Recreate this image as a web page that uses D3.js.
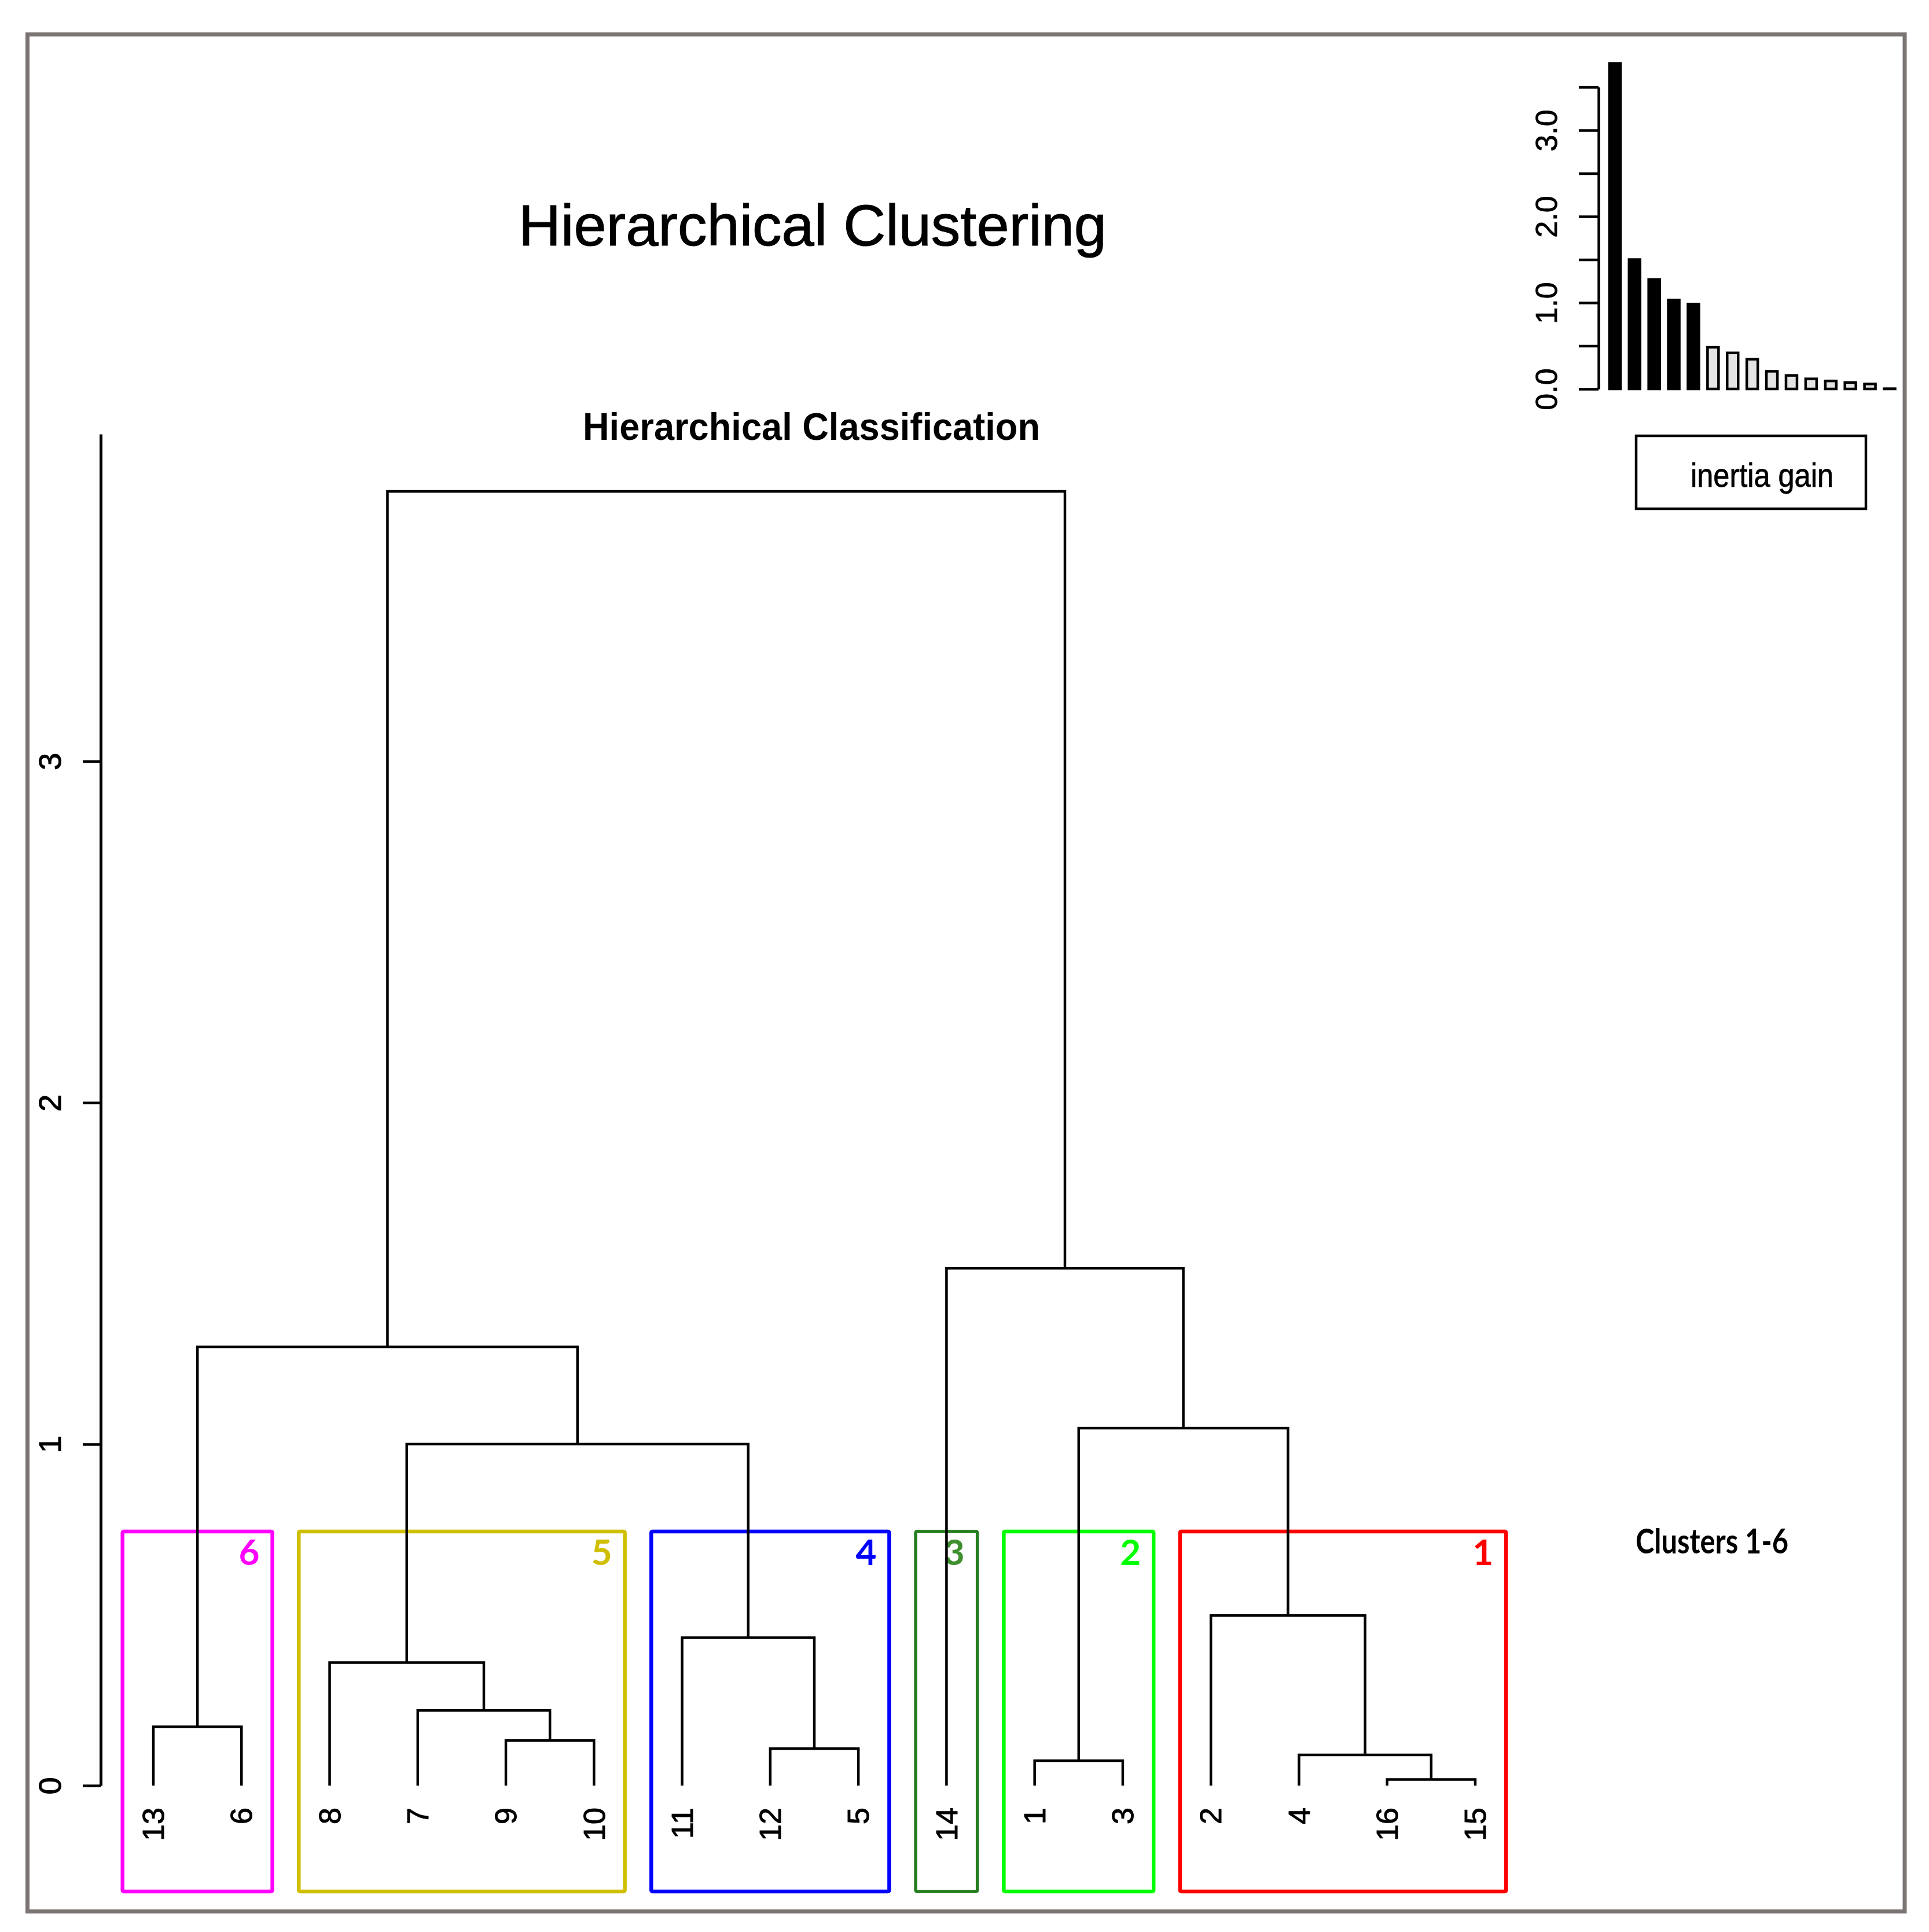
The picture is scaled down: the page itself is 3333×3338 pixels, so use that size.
<!DOCTYPE html>
<html>
<head>
<meta charset="utf-8">
<script src="https://cdn.jsdelivr.net/npm/d3@7"></script>
<style>
  html, body { margin: 0; padding: 0; background: #ffffff; }
  svg { display: block; }
</style>
</head>
<body>
<svg id="chart" width="3333" height="3338"></svg>
<script>
// ---------------- DATA ----------------
const title = "Hierarchical Clustering";
const subtitle = "Hierarchical Classification";

// leaf order along the dendrogram
const leafOrder = ["13", "6", "8", "7", "9", "10", "11", "12", "5", "14", "1", "3", "2", "4", "16", "15"];

// merges (like R's hclust merge matrix): ids, the two joined members, and the height
const mergeIds    = ["m1", "m2", "m3", "m4", "m5", "m6", "m7", "m8", "m9", "m10", "m11", "m12", "m13", "m14", "m15"];
const mergeLeft   = ["16", "1",  "4",  "12", "9",  "13", "7",  "8",  "11", "2",   "m8",  "m2",  "m6",  "14",  "m13"];
const mergeRight  = ["15", "3",  "m1", "5",  "10", "6",  "m5", "m7", "m4", "m3",  "m9",  "m10", "m11", "m12", "m14"];
const mergeHeight = [0.018, 0.073, 0.09, 0.108, 0.132, 0.172, 0.22, 0.36, 0.433, 0.498, 1.0, 1.047, 1.285, 1.515, 3.79];

// y-axis ticks of the dendrogram
const yTicks = [0, 1, 2, 3];

// clusters (boxes)
const clusterIds    = ["6", "5", "4", "3", "2", "1"];
const clusterFirst  = ["13", "8", "11", "14", "1", "2"];
const clusterLast   = ["6", "10", "5", "14", "3", "15"];
const clusterColors = ["#ff00ff", "#cfbf00", "#0000ff", "#237d1e", "#00ff00", "#ff0000"];
const clusterLabelColors = ["#ff00ff", "#cfbf00", "#0000ff", "#3f8f2f", "#00ff00", "#ff0000"];
const clusterNote = "Clusters 1-6";

// inset: inertia gain bar chart
const inertiaGain = [3.79, 1.515, 1.285, 1.047, 1.0, 0.498, 0.433, 0.36, 0.22, 0.172, 0.132, 0.108, 0.09, 0.073, 0.018];
const nBlack = 5;
const insetTicks = [0, 0.5, 1, 1.5, 2, 2.5, 3, 3.5];
const insetTickLabels = [0, 1, 2, 3];
const legendText = "inertia gain";

// ---------------- DRAWING ----------------
const svg = d3.select("#chart");
const FONT = "'Liberation Sans', Arial, Helvetica, sans-serif";

svg.append("rect").attr("x", 0).attr("y", 0).attr("width", 3333).attr("height", 3338).attr("fill", "#ffffff");

// outer frame
svg.append("rect")
  .attr("x", 47.5).attr("y", 59.5)
  .attr("width", 3243.5).attr("height", 3243)
  .attr("fill", "none").attr("stroke", "#7a7473").attr("stroke-width", 7);

// titles
svg.append("text")
  .attr("x", 1404).attr("y", 424)
  .attr("text-anchor", "middle")
  .attr("font-family", FONT).attr("font-size", 101)
  .attr("fill", "#000").attr("stroke", "#000").attr("stroke-width", 1.2)
  .text(title);

svg.append("text")
  .attr("x", 1007).attr("y", 760)
  .attr("font-family", FONT).attr("font-weight", "bold").attr("font-size", 67)
  .attr("textLength", 790).attr("lengthAdjust", "spacingAndGlyphs")
  .attr("fill", "#000")
  .text(subtitle);

// scales for dendrogram
const x = d3.scalePoint().domain(leafOrder).range([265, 2549]);
const yTop = 3.958;
const y = d3.scaleLinear().domain([0, yTop]).range([3085, 750]);

// y axis
const yAxis = svg.append("g")
  .attr("transform", "translate(174,0)")
  .call(d3.axisLeft(y).tickValues(yTicks).tickSize(31).tickSizeOuter(0).tickFormat(d3.format("d")));
yAxis.select(".domain").attr("stroke", "#000").attr("stroke-width", 5);
yAxis.selectAll(".tick line").attr("stroke", "#000").attr("stroke-width", 4.5);
yAxis.selectAll(".tick text")
  .attr("x", null).attr("dy", "0.35em")
  .attr("transform", "translate(-88,0) rotate(-90)")
  .attr("text-anchor", "middle")
  .attr("font-family", FONT).attr("font-size", 54)
  .attr("fill", "#000").attr("stroke", "#000").attr("stroke-width", 1);

// dendrogram node positions
const pos = {};
leafOrder.forEach(l => { pos[l] = { x: x(l), h: 0 }; });
mergeIds.forEach((id, i) => {
  const a = pos[mergeLeft[i]], b = pos[mergeRight[i]];
  pos[id] = { x: (a.x + b.x) / 2, h: mergeHeight[i] };
});

// cluster boxes (drawn below the tree lines)
const half = x.step() * 0.35;
const boxTop = y(0.744), boxBottom = y(-0.31);
const boxes = svg.append("g");
clusterIds.forEach((c, i) => {
  const x0 = x(clusterFirst[i]) - half;
  const x1 = x(clusterLast[i]) + half;
  boxes.append("rect")
    .attr("x", x0).attr("y", boxTop)
    .attr("width", x1 - x0).attr("height", boxBottom - boxTop)
    .attr("fill", "none")
    .attr("stroke", clusterColors[i])
    .attr("stroke-width", c === "3" ? 5.5 : 6.5)
    .attr("rx", 2);
  boxes.append("text")
    .attr("x", x1 - 22).attr("y", boxTop + 58)
    .attr("text-anchor", "end")
    .attr("font-family", "Lato, 'Open Sans', sans-serif").attr("font-weight", "bold")
    .attr("font-size", 62)
    .attr("fill", clusterLabelColors[i])
    .text(c);
});

// tree lines
const tree = svg.append("g");
mergeIds.forEach((id, i) => {
  const a = pos[mergeLeft[i]], b = pos[mergeRight[i]];
  const h = y(mergeHeight[i]);
  tree.append("path")
    .attr("d", `M${a.x},${y(a.h)}V${h}H${b.x}V${y(b.h)}`)
    .attr("fill", "none").attr("stroke", "#000").attr("stroke-width", 4.5)
    .attr("stroke-linejoin", "miter");
});

// leaf labels
svg.append("g").selectAll("text").data(leafOrder).join("text")
  .attr("transform", d => `translate(${x(d)},${y(0) + 38}) rotate(-90)`)
  .attr("dy", "0.35em")
  .attr("text-anchor", "end")
  .attr("font-family", FONT).attr("font-size", 52)
  .attr("fill", "#000").attr("stroke", "#000").attr("stroke-width", 1)
  .text(d => d);

// "Clusters 1-6" note
svg.append("text")
  .attr("x", 2826).attr("y", 2684)
  .attr("font-family", "Lato, 'Open Sans', sans-serif").attr("font-weight", "bold")
  .attr("font-size", 60)
  .attr("textLength", 264).attr("lengthAdjust", "spacingAndGlyphs")
  .attr("fill", "#000")
  .text(clusterNote);

// ---------------- INSET ----------------
const yi = d3.scaleLinear().domain([0, 3.5]).range([672, 150.5]);
const step = 33.9, pInner = 0.307;
const xi = d3.scaleBand().domain(d3.range(inertiaGain.length))
  .range([2778.6, 2778.6 + step * (inertiaGain.length - pInner)])
  .paddingInner(pInner).paddingOuter(0);

const ia = svg.append("g")
  .attr("transform", "translate(2762,0)")
  .call(d3.axisLeft(yi).tickValues(insetTicks).tickSize(34).tickSizeOuter(0)
    .tickFormat(d => insetTickLabels.includes(d) ? d3.format(".1f")(d) : ""));
ia.select(".domain").attr("stroke", "#000").attr("stroke-width", 4.5);
ia.selectAll(".tick line").attr("stroke", "#000").attr("stroke-width", 4.5);
ia.selectAll(".tick text")
  .attr("x", null).attr("dy", "0.35em")
  .attr("transform", "translate(-90,0) rotate(-90)")
  .attr("text-anchor", "middle")
  .attr("font-family", FONT).attr("font-size", 52)
  .attr("fill", "#000").attr("stroke", "#000").attr("stroke-width", 0.8);

const sw = 4.5;
svg.append("g").selectAll("rect").data(inertiaGain).join("rect")
  .attr("x", (d, i) => xi(i) + sw / 2)
  .attr("width", xi.bandwidth() - sw)
  .attr("y", d => yi(d) + sw / 2)
  .attr("height", d => Math.max(0, yi(0) - yi(d) - sw / 2))
  .attr("fill", (d, i) => i < nBlack ? "#000" : "#e4e4e4")
  .attr("stroke", "#000").attr("stroke-width", sw);

// legend box
svg.append("rect")
  .attr("x", 2827).attr("y", 753).attr("width", 397).attr("height", 126)
  .attr("fill", "none").attr("stroke", "#000").attr("stroke-width", 4.5);
svg.append("text")
  .attr("x", 2921).attr("y", 841)
  .attr("font-family", "'Liberation Sans Narrow', " + FONT).attr("font-size", 58)
  .attr("textLength", 247).attr("lengthAdjust", "spacingAndGlyphs")
  .attr("fill", "#000").attr("stroke", "#000").attr("stroke-width", 0.8)
  .text(legendText);
</script>
</body>
</html>
